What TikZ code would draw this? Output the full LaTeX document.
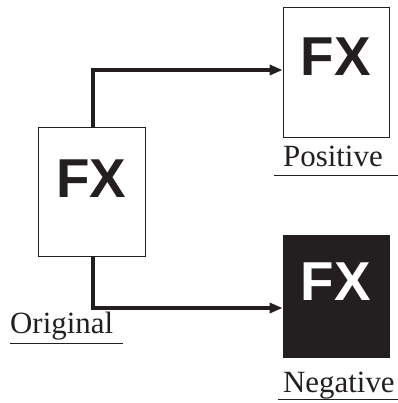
\documentclass[tikz,border=0pt]{standalone}
\usepackage{fontspec}
\setmainfont{Liberation Serif}
\newfontfamily\fxfont{Liberation Sans}
\usepackage{xcolor}
\usetikzlibrary{arrows.meta}
\definecolor{ink}{HTML}{231F20}

\begin{document}
\begin{tikzpicture}[
      x=1bp, y=-1bp,
      frame/.style={draw=ink, line width=0.8bp, minimum width=106bp, minimum height=130bp, inner sep=0pt},
      fx/.style={inner sep=0pt, text=ink, font=\fxfont\bfseries\fontsize{55}{55}\selectfont},
      lbl/.style={anchor=base west, inner sep=0pt, text=ink, font=\fontsize{31}{31}\selectfont},
      wire/.style={draw=ink, line width=3.2bp, -{Triangle[length=13bp, width=10bp]}}
    ]
      \useasboundingbox (0,0) rectangle (398,403);

      % Pictures
      \node[frame, minimum width=107bp, minimum height=129bp] (orig) at (91.5,191.5) {};
      \node[frame] (pos) at (336,72) {};
      \node[frame, fill=ink, minimum height=122bp] (neg) at (336,296) {};

      \node[fx] (origfx) at ([yshift=13bp]orig.center) {FX};
      \node[fx] (posfx) at ([yshift=15bp]pos.center) {FX};
      \node[fx, text=white] (negfx) at ([yshift=14bp]neg.center) {FX};

      % Captions
      \node[lbl] (origlbl) at (10,333) {Original};
      \node[lbl] (poslbl) at (283,166) {Positive};
      \node[lbl] (neglbl) at (283,392) {Negative};

      \draw[ink, line width=0.8bp] ([yshift=-10bp]origlbl.base west) -- ++(113,0);
      \draw[ink, line width=0.8bp] ([xshift=-9bp, yshift=-9bp]poslbl.base west) -- ++(124,0);
      \draw[ink, line width=0.8bp] ([xshift=-5bp, yshift=-7bp]neglbl.base west) -- ++(120,0);

      % Connections
      \draw[wire] ([xshift=1.5bp]orig.north) |- ([yshift=2bp]pos.west);
      \draw[wire] ([xshift=1.5bp]orig.south) |- ([yshift=-12bp]neg.west);
    \end{tikzpicture}
\end{document}
